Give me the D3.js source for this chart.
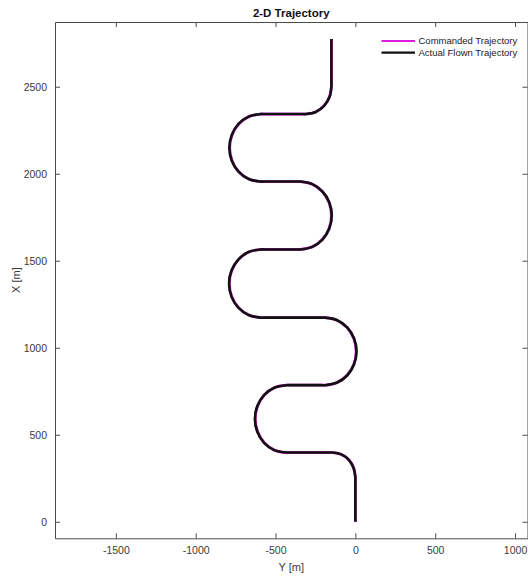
<!DOCTYPE html>
<html><head><meta charset="utf-8">
<script src="https://cdn.jsdelivr.net/npm/d3@7"></script>
<style>body{margin:0;background:#fff;} svg{display:block;font-family:"Liberation Sans",Arial,Helvetica,sans-serif;}</style>
</head><body><svg id="c" width="528" height="577"></svg>
<script>
// ---- data ----
const horizTicks = [-1500, -1000, -500, 0, 500, 1000];   // Y [m]
const vertTicks = [0, 500, 1000, 1500, 2000, 2500];       // X [m]
const seriesNames = ["Commanded Trajectory", "Actual Flown Trajectory"];
const seriesColors = ["#e01be0", "#111111"];

// Commanded trajectory: Y (horizontal) and X (vertical), metres
const commandedY = [0,0,0,-10.7,-41,-86.4,-140,-160,
  -413,-433,-507.3,-570.2,-612.3,-627,-612.3,-570.2,-507.3,-433,-413,
  -209,-189,-114.7,-51.8,-9.7,5,-9.7,-51.8,-114.7,-189,-209,
  -573,-593,-668,-731.6,-774.1,-789,-774.1,-731.6,-668,-593,-573,
  -365,-345,-270.4,-207.1,-164.8,-150,-164.8,-207.1,-270.4,-345,-365,
  -573,-593,-667.2,-730.2,-772.2,-787,-772.2,-730.2,-667.2,-593,-573,
  -330,-310,-248.8,-196.9,-162.2,-150,-150,-150];
const commandedX = [0,237,257,310.6,356,386.3,397,397,
  397,397,411.7,453.8,516.7,591,665.3,728.2,770.3,785,785,
  785,785,799.7,841.8,904.7,979,1053.3,1116.2,1158.3,1173,1173,
  1173,1173,1187.9,1230.4,1294,1369,1444,1507.6,1550.1,1565,1565,
  1565,1565,1579.8,1622.1,1685.4,1760,1834.6,1897.9,1940.2,1955,1955,
  1955,1955,1969.8,2011.8,2074.8,2149,2223.2,2286.2,2328.2,2343,2343,
  2343,2343,2355.2,2389.9,2441.8,2503,2523,2775];

// Actual flown trajectory (nearly on top of the commanded one)
const actualY = [0,0,0,-12,-43,-88,-141,-161,
  -413,-433,-508,-572,-614,-629,-614,-572,-508,-433,-413,
  -209,-189,-114,-50,-8,7,-8,-50,-114,-189,-209,
  -573,-593,-669,-733,-776,-791,-776,-733,-669,-593,-573,
  -365,-345,-270,-206,-163,-148,-163,-206,-270,-345,-365,
  -573,-593,-668,-732,-774,-789,-774,-732,-668,-593,-573,
  -330,-310,-248,-196,-161,-150,-150,-150];
const actualX = [0,237,257,311,357,387,398,398,
  398,398,412,454,517,591,665,728,770,785,785,
  785,785,800,842,905,979,1053,1116,1158,1173,1173,
  1173,1173,1188,1230,1294,1369,1444,1507,1550,1565,1565,
  1565,1565,1580,1622,1685,1760,1835,1898,1940,1955,1955,
  1955,1955,1970,2012,2075,2149,2223,2286,2328,2343,2343,
  2343,2343,2355,2390,2442,2503,2523,2775];

// ---- layout ----
const L = 55, R = 527.5, T = 22, B = 538.3;
const svg = d3.select("#c");
const sx = d3.scaleLinear().domain([-1881, 1078]).range([L, R]);
const sy = d3.scaleLinear().domain([-95, 2872]).range([B, T]);
const axisCol = "#4a4a4a", textCol = "#3a3a3a";
const fmt = d => String(d);

function styleAxis(g){
  g.selectAll("path.domain").attr("stroke", axisCol).attr("stroke-width", 1);
  g.selectAll(".tick line").attr("stroke", axisCol);
  g.selectAll(".tick text").attr("fill", textCol).attr("font-size", 10.5)
    .attr("font-family", '"Liberation Sans",Arial,sans-serif');
}
svg.append("g").attr("transform", `translate(0,${B})`)
  .call(d3.axisBottom(sx).tickValues(horizTicks).tickFormat(fmt).tickSizeInner(-5).tickSizeOuter(0).tickPadding(8))
  .call(styleAxis);
svg.append("g").attr("transform", `translate(0,${T})`)
  .call(d3.axisTop(sx).tickValues(horizTicks).tickSizeInner(-5).tickSizeOuter(0).tickFormat(""))
  .call(styleAxis);
svg.append("g").attr("transform", `translate(${L},0)`)
  .call(d3.axisLeft(sy).tickValues(vertTicks).tickFormat(fmt).tickSizeInner(-5).tickSizeOuter(0).tickPadding(8))
  .call(styleAxis);
svg.append("g").attr("transform", `translate(${R},0)`)
  .call(d3.axisRight(sy).tickValues(vertTicks).tickSizeInner(-5).tickSizeOuter(0).tickFormat(""))
  .call(styleAxis);

// lines
const line = d3.line().x(d => sx(d[0])).y(d => sy(d[1])).curve(d3.curveCatmullRom.alpha(0.5));
const commanded = commandedY.map((v, i) => [v, commandedX[i]]);
const actual = actualY.map((v, i) => [v, actualX[i]]);
svg.append("path").datum(commanded).attr("d", line).attr("fill", "none")
  .attr("stroke", seriesColors[0]).attr("stroke-width", 2.8).attr("stroke-linejoin", "round");
svg.append("path").datum(actual).attr("d", line).attr("fill", "none")
  .attr("stroke", seriesColors[1]).attr("stroke-width", 2.6).attr("stroke-linejoin", "round");

// title and labels
svg.append("text").attr("x", (L + R) / 2).attr("y", 17).attr("text-anchor", "middle")
  .attr("font-size", 11.5).attr("font-weight", "bold").attr("fill", "#111").text("2-D Trajectory");
svg.append("text").attr("x", (L + R) / 2).attr("y", 571).attr("text-anchor", "middle")
  .attr("font-size", 11).attr("fill", textCol).text("Y [m]");
svg.append("text").attr("transform", `translate(20,${(T + B) / 2}) rotate(-90)`).attr("text-anchor", "middle")
  .attr("font-size", 11).attr("fill", textCol).text("X [m]");

// legend
const lg = svg.append("g");
seriesNames.forEach((name, i) => {
  const y = 41 + i * 11.7;
  lg.append("line").attr("x1", 381.5).attr("x2", 415).attr("y1", y).attr("y2", y)
    .attr("stroke", seriesColors[i]).attr("stroke-width", 2.2);
  lg.append("text").attr("x", 418.5).attr("y", y + 3.3).attr("font-size", 9.5)
    .attr("fill", "#222").text(name);
});
</script></body></html>
